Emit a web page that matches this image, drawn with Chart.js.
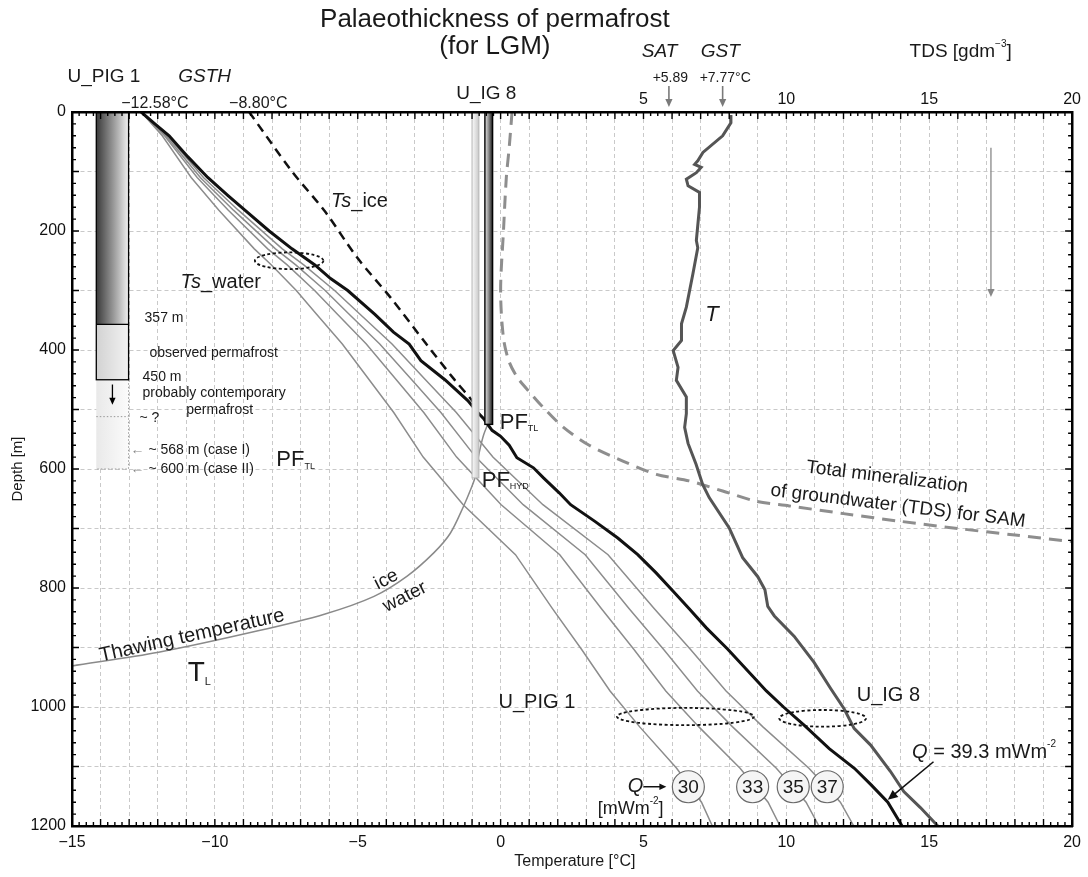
<!DOCTYPE html>
<html>
<head>
<meta charset="utf-8">
<script src="https://cdn.jsdelivr.net/npm/chart.js@4.4.0/dist/chart.umd.min.js"></script>
<style>
  html, body { margin: 0; padding: 0; background: #fff; }
</style>
</head>
<body>
<canvas id="mygraph" width="1088" height="877"></canvas>
<script>
// ---- data (temperature in °C, depth in m) ----
const tempTicks = [-15, -10, -5, 0, 5, 10, 15, 20];
const tdsTicks = [5, 10, 15, 20];
const depthTicks = [0, 200, 400, 600, 800, 1000, 1200];

// thick black line, Q = 39.3 mWm-2
const blackDepth = [0, 20, 40, 75, 110, 140, 165, 200, 230, 257, 280, 300, 340, 370, 390, 418, 450, 485, 505, 515, 527, 535, 545, 560, 581, 598, 615, 640, 660, 688, 716, 744, 775, 805, 835, 867, 903, 947, 973, 1000, 1031, 1070, 1103, 1130, 1160, 1200];
const blackTemp = [-12.58, -12.1, -11.6, -10.95, -10.25, -9.55, -8.95, -8.1, -7.3, -6.5, -5.95, -5.35, -4.4, -3.75, -3.2, -2.79, -1.95, -1.15, -0.8, -0.6, -0.42, -0.3, 0.0, 0.3, 0.57, 1.15, 1.5, 2.05, 2.45, 3.3, 4.1, 4.8, 5.45, 6.03, 6.6, 7.2, 7.95, 8.8, 9.3, 9.9, 10.63, 11.5, 12.38, 12.95, 13.55, 14.05];

// grey model curves for Q = 30, 33, 35, 37 mWm-2
const modelDepth = [0, 40, 110, 165, 230, 257, 300, 340, 390, 450, 505, 580, 660, 744, 835, 903, 973, 1033, 1103, 1160, 1200];
const q30Temp = [-12.58, -11.84, -10.83, -9.86, -8.62, -8.02, -7.15, -6.44, -5.54, -4.60, -3.74, -2.71, -1.31, 0.52, 1.82, 2.83, 3.83, 4.86, 6.16, 7.03, 7.41];
const q33Temp = [-12.58, -11.76, -10.62, -9.53, -8.15, -7.47, -6.51, -5.71, -4.70, -3.65, -2.69, -1.54, 0.02, 2.07, 3.53, 4.66, 5.78, 6.93, 8.38, 9.36, 9.78];
const q35Temp = [-12.58, -11.71, -10.51, -9.35, -7.88, -7.17, -6.14, -5.30, -4.23, -3.11, -2.09, -0.87, 0.79, 2.96, 4.50, 5.70, 6.89, 8.11, 9.65, 10.69, 11.14];
const q37Temp = [-12.58, -11.66, -10.40, -9.18, -7.64, -6.89, -5.81, -4.92, -3.80, -2.63, -1.55, -0.27, 1.48, 3.76, 5.38, 6.64, 7.89, 9.17, 10.79, 11.89, 12.36];

// measured temperature log T (U_IG 8)
const tDepth = [5, 18, 40, 68, 82, 88, 93, 102, 113, 124, 135, 160, 216, 228, 272, 328, 356, 384, 401, 429, 451, 479, 507, 530, 557, 592, 626, 648, 699, 749, 781, 803, 831, 847, 881, 925, 969, 1003, 1036, 1064, 1108, 1142, 1169, 1200];
const tTemp = [8.05, 8.06, 7.77, 7.08, 6.9, 6.79, 7.02, 6.85, 6.5, 6.56, 6.96, 6.96, 6.85, 6.9, 6.73, 6.5, 6.33, 6.33, 6.04, 6.21, 6.15, 6.5, 6.5, 6.44, 6.56, 6.84, 7.07, 7.3, 8.0, 8.47, 9.0, 9.25, 9.35, 9.58, 10.27, 10.97, 11.55, 12.02, 12.37, 12.95, 13.64, 14.11, 14.69, 15.3];

// GSTH dashed line, Ts_ice
const gsthDepth = [0, 100, 167, 246, 312, 390, 449, 485, 500];
const gsthTemp = [-8.8, -7.3, -6.15, -5.0, -3.85, -2.6, -1.63, -1.0, -0.8];

// total mineralization of groundwater (TDS, g/dm3)
const tdsDepth = [0, 60, 110, 200, 300, 380, 420, 447, 470, 497, 530, 560, 587, 609, 620, 637, 654, 662, 675, 688, 700, 711, 722];
const tdsValue = [0.4, 0.3, 0.2, 0.1, 0.0, 0.1, 0.3, 0.6, 1.0, 1.5, 2.2, 3.1, 4.3, 5.45, 6.6, 7.77, 8.93, 10.1, 12, 14, 16, 18, 20];

// thawing temperature T_L
const thawDepth = [931, 908, 872, 844, 814, 780, 741, 708, 663, 630, 613, 592, 564, 542, 525];
const thawTemp = [-15.0, -11.97, -8.49, -6.17, -4.43, -3.27, -2.34, -1.76, -1.30, -1.01, -0.89, -0.83, -0.71, -0.59, -0.45];

// borehole columns
const pigColumnTemp = [-14.15, -13.02];
const pigColumnDepth = [0, 357, 450, 512, 600];
const igLightTemp = [-1.0, -0.76];
const igDarkTemp = [-0.55, -0.28];
const igDepth = [525, 615]; // PF_TL, PF_HYD

// Q circles
const qValues = [30, 33, 35, 37];
const qCircleTemp = [6.57, 8.82, 10.24, 11.43];
const qCircleDepth = 1134;

// surface temperatures
const satValue = 5.89;
const gstValue = 7.77;

const FONT = '"Liberation Sans", Arial, Helvetica, sans-serif';
Chart.defaults.font.family = FONT;
Chart.defaults.color = '#111';

const pts = (ts, ds) => ts.map((t, i) => ({ x: t, y: ds[i] }));
const curve = (label, ts, ds, color, width, extra) => Object.assign({
  label, data: pts(ts, ds), showLine: true, borderColor: color, borderWidth: width,
  pointRadius: 0, fill: false, tension: 0
}, extra || {});

const minus = v => (v < 0 ? '\u2212' + Math.abs(v) : String(v));

// ---- drawing helpers ----
function runs(ctx, parts, x, y, align, rot) {
  ctx.save();
  ctx.translate(x, y);
  if (rot) ctx.rotate(rot * Math.PI / 180);
  let w = 0;
  parts.forEach(p => { ctx.font = (p.style || '') + ' ' + p.size + 'px ' + FONT; p.w = ctx.measureText(p.t).width; w += p.w; });
  let cx = align === 'left' ? 0 : (align === 'right' ? -w : -w / 2);
  ctx.textBaseline = 'middle';
  ctx.textAlign = 'left';
  parts.forEach(p => {
    ctx.font = (p.style || '') + ' ' + p.size + 'px ' + FONT;
    ctx.fillStyle = p.color || '#1a1a1a';
    ctx.fillText(p.t, cx, p.dy || 0);
    cx += p.w;
  });
  ctx.restore();
}
function txt(ctx, s, x, y, size, opt) {
  opt = opt || {};
  runs(ctx, [{ t: s, size, style: opt.style, color: opt.color }], x, y, opt.align || 'center', opt.rot);
}
function arrow(ctx, x1, y1, x2, y2, color, w, head) {
  ctx.save();
  ctx.strokeStyle = color; ctx.fillStyle = color; ctx.lineWidth = w;
  const a = Math.atan2(y2 - y1, x2 - x1);
  ctx.beginPath(); ctx.moveTo(x1, y1); ctx.lineTo(x2 - Math.cos(a) * head * 0.8, y2 - Math.sin(a) * head * 0.8); ctx.stroke();
  ctx.beginPath();
  ctx.moveTo(x2, y2);
  ctx.lineTo(x2 - head * Math.cos(a) + head * 0.45 * Math.sin(a), y2 - head * Math.sin(a) - head * 0.45 * Math.cos(a));
  ctx.lineTo(x2 - head * Math.cos(a) - head * 0.45 * Math.sin(a), y2 - head * Math.sin(a) + head * 0.45 * Math.cos(a));
  ctx.closePath(); ctx.fill();
  ctx.restore();
}

const annot = {
  id: 'annot',
  beforeDatasetsDraw(chart) {
    const { ctx } = chart;
    const X = v => chart.scales.x.getPixelForValue(v), Y = d => chart.scales.y.getPixelForValue(d);
    const l = X(pigColumnTemp[0]), r = X(pigColumnTemp[1]);
    const [d0, d1, d2, d3, d4] = pigColumnDepth.map(Y);
    ctx.save();
    // faint lower part (probable permafrost)
    let g = ctx.createLinearGradient(l, 0, r, 0);
    g.addColorStop(0, '#e9e9e9'); g.addColorStop(1, '#fbfbfb');
    ctx.fillStyle = g; ctx.fillRect(l, d2, r - l, d4 - d2);
    ctx.strokeStyle = '#999'; ctx.lineWidth = 1; ctx.setLineDash([1.5, 2]);
    ctx.beginPath(); ctx.moveTo(r, d2); ctx.lineTo(r, d4); ctx.lineTo(l, d4); ctx.stroke();
    ctx.beginPath(); ctx.moveTo(l, d3); ctx.lineTo(r, d3); ctx.stroke();
    ctx.setLineDash([]);
    // observed permafrost
    g = ctx.createLinearGradient(l, 0, r, 0);
    g.addColorStop(0, '#d2d2d2'); g.addColorStop(1, '#f2f2f2');
    ctx.fillStyle = g; ctx.fillRect(l, d1, r - l, d2 - d1);
    g = ctx.createLinearGradient(l, 0, r, 0);
    g.addColorStop(0, '#3a3a3a'); g.addColorStop(0.55, '#9c9c9c'); g.addColorStop(1, '#f0f0f0');
    ctx.fillStyle = g; ctx.fillRect(l, d0, r - l, d1 - d0);
    ctx.strokeStyle = '#000'; ctx.lineWidth = 1.3;
    ctx.strokeRect(l, d0, r - l, d2 - d0);
    ctx.beginPath(); ctx.moveTo(l, d1); ctx.lineTo(r, d1); ctx.stroke();
    ctx.restore();
    arrow(ctx, (l + r) / 2, Y(458), (l + r) / 2, Y(492), '#000', 1.3, 7);
  },
  afterDatasetsDraw(chart) {
    const { ctx } = chart;
    const X = v => chart.scales.x.getPixelForValue(v), Y = d => chart.scales.y.getPixelForValue(d);
    const top = Y(0);
    // U_IG 8 columns
    ctx.save();
    let l = X(igLightTemp[0]), r = X(igLightTemp[1]);
    let g = ctx.createLinearGradient(l, 0, r, 0);
    g.addColorStop(0, '#fafafa'); g.addColorStop(1, '#c9c9c9');
    ctx.fillStyle = g; ctx.fillRect(l, top, r - l, Y(igDepth[1]) - top);
    ctx.strokeStyle = '#b5b5b5'; ctx.lineWidth = 1; ctx.strokeRect(l, top, r - l, Y(igDepth[1]) - top);
    l = X(igDarkTemp[0]); r = X(igDarkTemp[1]);
    g = ctx.createLinearGradient(l, 0, r, 0);
    g.addColorStop(0, '#e6e6e6'); g.addColorStop(0.5, '#8a8a8a'); g.addColorStop(1, '#1a1a1a');
    ctx.fillStyle = g; ctx.fillRect(l, top, r - l, Y(igDepth[0]) - top);
    ctx.strokeStyle = '#000'; ctx.lineWidth = 1.4; ctx.strokeRect(l, top, r - l, Y(igDepth[0]) - top);
    ctx.restore();

    // dotted ellipses
    const ell = (t, d, rt, rd) => {
      ctx.save(); ctx.strokeStyle = '#111'; ctx.lineWidth = 1.8; ctx.setLineDash([3, 2.5]);
      ctx.beginPath();
      ctx.ellipse(X(t), Y(d), Math.abs(X(t + rt) - X(t)), Math.abs(Y(d + rd) - Y(d)), 0, 0, Math.PI * 2);
      ctx.stroke(); ctx.restore();
    };
    ell(-7.4, 250, 1.2, 14);
    ell(6.47, 1016, 2.4, 14.5);
    ell(11.27, 1019, 1.52, 14);

    // Q circles
    qValues.forEach((q, i) => {
      const cx = X(qCircleTemp[i]), cy = Y(qCircleDepth);
      ctx.save(); ctx.beginPath(); ctx.arc(cx, cy, 16, 0, Math.PI * 2);
      ctx.fillStyle = '#f5f5f5'; ctx.fill(); ctx.strokeStyle = '#6a6a6a'; ctx.lineWidth = 1.2; ctx.stroke(); ctx.restore();
      txt(ctx, String(q), cx, cy + 1, 19);
    });
    runs(ctx, [{ t: 'Q', size: 20, style: 'italic' }], X(4.45), Y(1134), 'left');
    arrow(ctx, X(5.0), Y(1134), X(5.8), Y(1134), '#111', 1.5, 7);
    runs(ctx, [{ t: '[mWm', size: 18 }, { t: '-2', size: 10, dy: -8 }, { t: ']', size: 18 }], X(4.55), Y(1172), 'center');

    // labels inside plot
    runs(ctx, [{ t: 'Ts', size: 20, style: 'italic' }, { t: '_ice', size: 20 }], X(-5.94), Y(151), 'left');
    runs(ctx, [{ t: 'Ts', size: 20, style: 'italic' }, { t: '_water', size: 20 }], X(-11.2), Y(286), 'left');
    txt(ctx, '357 m', X(-12.46), Y(347), 14, { align: 'left' });
    txt(ctx, 'observed permafrost', X(-12.29), Y(405), 14, { align: 'left' });
    txt(ctx, '450 m', X(-12.53), Y(446), 14, { align: 'left' });
    txt(ctx, 'probably contemporary', X(-12.53), Y(472), 14, { align: 'left' });
    txt(ctx, 'permafrost', X(-11.0), Y(501), 14, { align: 'left' });
    txt(ctx, '~ ?', X(-12.64), Y(514), 14, { align: 'left' });
    runs(ctx, [{ t: '\u2190', size: 14, color: '#888' }, { t: ' ~ 568 m (case I)', size: 14 }], X(-12.95), Y(568), 'left');
    runs(ctx, [{ t: '\u2190', size: 14, color: '#888' }, { t: ' ~ 600 m (case II)', size: 14 }], X(-12.95), Y(601), 'left');
    runs(ctx, [{ t: 'PF', size: 22 }, { t: 'TL', size: 9, dy: 6 }], X(-7.85), Y(585), 'left');
    runs(ctx, [{ t: 'PF', size: 22 }, { t: 'TL', size: 9, dy: 6 }], X(-0.03), Y(522), 'left');
    runs(ctx, [{ t: 'PF', size: 22 }, { t: 'HYD', size: 9, dy: 6 }], X(-0.66), Y(620), 'left');
    txt(ctx, 'T', X(7.4), Y(341), 22, { style: 'italic' });
    txt(ctx, 'Total mineralization', X(10.7), Y(597), 19, { align: 'left', rot: 7 });
    txt(ctx, 'of groundwater (TDS) for SAM', X(9.45), Y(636), 19, { align: 'left', rot: 7 });
    txt(ctx, 'Thawing temperature', X(-10.8), Y(880), 20, { rot: -12.5 });
    runs(ctx, [{ t: 'T', size: 28 }, { t: 'L', size: 11, dy: 8 }], X(-10.95), Y(944), 'left');
    txt(ctx, 'ice', X(-4.0), Y(786), 19, { rot: -27 });
    txt(ctx, 'water', X(-3.35), Y(815), 19, { rot: -27 });
    txt(ctx, 'U_PIG 1', X(1.27), Y(993), 20);
    txt(ctx, 'U_IG 8', X(13.57), Y(980), 20);
    runs(ctx, [{ t: 'Q', size: 20, style: 'italic' }, { t: ' = 39.3 mWm', size: 20 }, { t: '-2', size: 10, dy: -8 }], X(14.4), Y(1076), 'left');
    arrow(ctx, X(15.15), Y(1092), X(13.55), Y(1156), '#111', 1.6, 10);
    arrow(ctx, X(17.16), Y(60), X(17.16), Y(311), '#888', 1.3, 8);
  },
  afterDraw(chart) {
    const { ctx, chartArea: a } = chart;
    const X = v => chart.scales.x.getPixelForValue(v), Y = d => chart.scales.y.getPixelForValue(d);
    // inward tick marks
    ctx.save(); ctx.strokeStyle = '#000'; ctx.lineWidth = 1.4;
    ctx.beginPath();
    for (let k = 0; k <= 140; k++) {
      const x = X(-15 + k * 0.25), L = k % 4 === 0 ? 7 : 4;
      ctx.moveTo(x, a.bottom); ctx.lineTo(x, a.bottom - L);
      ctx.moveTo(x, a.top); ctx.lineTo(x, a.top + L);
    }
    for (let d = 0; d <= 1200; d += 20) {
      const y = Y(d), L = d % 100 === 0 ? 7 : 4;
      ctx.moveTo(a.left, y); ctx.lineTo(a.left + L, y);
      ctx.moveTo(a.right, y); ctx.lineTo(a.right - L, y);
    }
    ctx.stroke(); ctx.restore();

    // title and header labels
    txt(ctx, 'Palaeothickness of permafrost', X(-0.2), 20, 26);
    txt(ctx, '(for LGM)', X(-0.2), 47, 26);
    txt(ctx, 'U_PIG 1', X(-13.88), 77, 19);
    txt(ctx, 'GSTH', X(-10.36), 77, 19, { style: 'italic' });
    txt(ctx, '\u221212.58\u00b0C', X(-12.1), 104, 16);
    txt(ctx, '\u22128.80\u00b0C', X(-8.48), 104, 16);
    txt(ctx, 'U_IG 8', X(-0.5), 94, 19);
    txt(ctx, 'SAT', X(5.56), 52, 19, { style: 'italic' });
    txt(ctx, 'GST', X(7.69), 52, 19, { style: 'italic' });
    txt(ctx, '+5.89', X(5.94), 78, 14);
    txt(ctx, '+7.77\u00b0C', X(7.86), 78, 14);
    runs(ctx, [{ t: 'TDS [gdm', size: 19 }, { t: '\u22123', size: 10, dy: -8 }, { t: ']', size: 19 }], X(16.1), 52, 'center');
    arrow(ctx, X(satValue), 86, X(satValue), 107, '#7a7a7a', 1.6, 8);
    arrow(ctx, X(gstValue), 86, X(gstValue), 107, '#7a7a7a', 1.6, 8);

    // axis titles
    txt(ctx, 'Depth [m]', 18, (a.top + a.bottom) / 2, 15, { rot: -90 });
    txt(ctx, 'Temperature [\u00b0C]', X(2.6), 862, 16);
  }
};

const gridDash = { color: '#c9c9c9', lineWidth: 1, drawTicks: false };

const config = {
  type: 'scatter',
  data: {
    datasets: [
      curve('Q = 39.3 mWm-2', blackTemp, blackDepth, '#111', 3),
      curve('T (U_IG 8)', tTemp, tDepth, '#555', 3),
      curve('Ts_ice (GSTH)', gsthTemp, gsthDepth, '#111', 2.5, { borderDash: [9, 6], tension: 0.3 }),
      curve('Q = 30', q30Temp, modelDepth, '#8c8c8c', 1.5),
      curve('Q = 33', q33Temp, modelDepth, '#8c8c8c', 1.5),
      curve('Q = 35', q35Temp, modelDepth, '#8c8c8c', 1.5),
      curve('Q = 37', q37Temp, modelDepth, '#8c8c8c', 1.5),
      curve('TDS', tdsValue, tdsDepth, '#8e8e8e', 3, { borderDash: [13, 8], tension: 0.3, xAxisID: 'x2' }),
      curve('Thawing temperature', thawTemp, thawDepth, '#8a8a8a', 1.5, { tension: 0.3 })
    ]
  },
  options: {
    responsive: false,
    animation: false,
    devicePixelRatio: 1,
    layout: { padding: 0 },
    plugins: { legend: { display: false }, tooltip: { enabled: false } },
    scales: {
      x: {
        type: 'linear', position: 'bottom', min: -15, max: 20,
        ticks: { stepSize: 1, autoSkip: false, maxRotation: 0, padding: 7, font: { size: 16 },
          callback: v => (tempTicks.includes(v) ? minus(v) : '') },
        grid: gridDash,
        border: { display: true, color: '#000', width: 2.5, dash: [4, 3], z: 1 },
        afterFit: s => { s.height = 51; }
      },
      x2: {
        type: 'linear', position: 'top', min: -15, max: 20,
        ticks: { stepSize: 5, autoSkip: false, maxRotation: 0, padding: 3, font: { size: 16 },
          callback: v => (tdsTicks.includes(v) ? String(v) : '') },
        grid: { drawOnChartArea: false, drawTicks: false },
        border: { display: true, color: '#000', width: 2.5, z: 1 },
        afterFit: s => { s.height = 112; }
      },
      y: {
        type: 'linear', position: 'left', min: 0, max: 1200, reverse: true,
        ticks: { stepSize: 100, autoSkip: false, padding: 6, font: { size: 16 },
          callback: v => (depthTicks.includes(v) ? String(v) : '') },
        grid: gridDash,
        border: { display: true, color: '#000', width: 2.5, dash: [4, 3], z: 1 },
        afterFit: s => { s.width = 72; }
      },
      y2: {
        type: 'linear', position: 'right', min: 0, max: 1200, reverse: true,
        ticks: { display: false },
        grid: { drawOnChartArea: false, drawTicks: false },
        border: { display: true, color: '#000', width: 2.5, z: 1 },
        afterFit: s => { s.width = 11; }
      }
    }
  },
  plugins: [annot]
};

const mygraph = new Chart(document.getElementById('mygraph'), config);
</script>
</body>
</html>
